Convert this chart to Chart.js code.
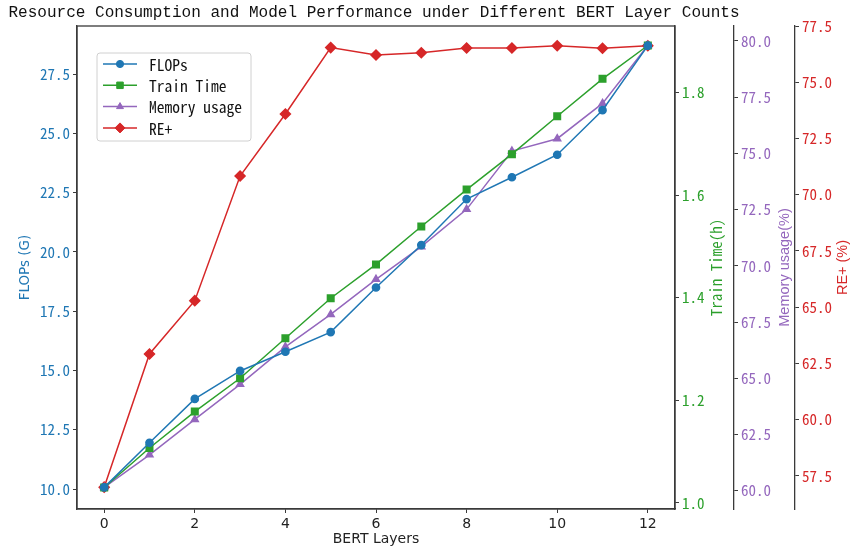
<!DOCTYPE html>
<html>
<head>
<meta charset="utf-8">
<script src="https://cdn.jsdelivr.net/npm/chart.js@4.4.0/dist/chart.umd.min.js"></script>
<style>
    html, body { margin: 0; padding: 0; background: #fff; }
    #wrap { width: 850px; height: 552px; }
</style>
</head>
<body>
<div id="wrap"><canvas id="myChart" width="850" height="552"></canvas></div>
<script>
// data
const layers = [0, 1, 2, 3, 4, 5, 6, 7, 8, 9, 10, 11, 12];
const flops = [10.07, 11.95, 13.8, 14.98, 15.79, 16.62, 18.5, 20.29, 22.23, 23.15, 24.1, 25.98, 28.7];
const trainTime = [1.03, 1.107, 1.178, 1.243, 1.321, 1.399, 1.465, 1.539, 1.611, 1.68, 1.754, 1.827, 1.892];
const memoryUsage = [60.15, 61.6, 63.17, 64.73, 66.4, 67.84, 69.4, 70.85, 72.51, 75.1, 75.65, 77.22, 79.79];
const rePlus = [57.0, 62.92, 65.29, 70.83, 73.59, 76.54, 76.21, 76.31, 76.52, 76.52, 76.62, 76.51, 76.62];

const xTicks = [0, 2, 4, 6, 8, 10, 12];
const flopsTicks = [10.0, 12.5, 15.0, 17.5, 20.0, 22.5, 25.0, 27.5];
const trainTicks = [1.0, 1.2, 1.4, 1.6, 1.8];
const memoryTicks = [60.0, 62.5, 65.0, 67.5, 70.0, 72.5, 75.0, 77.5, 80.0];
const reTicks = [57.5, 60.0, 62.5, 65.0, 67.5, 70.0, 72.5, 75.0, 77.5];

const seriesNames = ["FLOPs", "Train Time", "Memory usage", "RE+"];
const chartTitle = "Resource Consumption and Model Performance under Different BERT Layer Counts";

const BLUE = "#1f77b4";
const GREEN = "#2ca02c";
const PURPLE = "#9467bd";
const RED = "#d62728";
const AXIS = "#3a3a3a";

const monoCJK = "'Noto Sans Mono CJK SC', 'Liberation Mono', monospace";
const sans = "'DejaVu Sans', sans-serif";

const toPoints = (ys) => layers.map((x, i) => ({ x: x, y: ys[i] }));

function yAxis(opts) {
    return {
        type: "linear",
        position: opts.position,
        weight: opts.weight,
        min: opts.min,
        max: opts.max,
        afterFit: (scale) => {
            scale.width = opts.width;
        },
        afterBuildTicks: (scale) => {
            scale.ticks = opts.ticks.map((v) => ({ value: v }));
        },
        ticks: {
            color: opts.color,
            padding: 3,
            font: { family: monoCJK, size: 15 },
            callback: (v) => Number(v).toFixed(1),
        },
        grid: {
            display: true,
            drawOnChartArea: false,
            drawTicks: true,
            tickLength: 4,
            color: AXIS,
            tickColor: AXIS,
        },
        border: { display: true, color: AXIS, width: 1.3 },
    };
}

const framePlugin = {
    id: "frame",
    beforeDatasetsDraw(chart) {
        const { ctx, chartArea } = chart;
        ctx.save();
        ctx.strokeStyle = AXIS;
        ctx.lineWidth = 1.3;
        ctx.strokeRect(chartArea.left, chartArea.top, chartArea.right - chartArea.left, chartArea.bottom - chartArea.top);
        ctx.restore();
    },
};

const textPlugin = {
    id: "texts",
    afterDraw(chart) {
        const { ctx, chartArea, scales } = chart;
        const midY = (chartArea.top + chartArea.bottom) / 2;
        ctx.save();

        // main title, sized to span the same width as in the picture
        ctx.fillStyle = "#111";
        ctx.textAlign = "center";
        ctx.textBaseline = "middle";
        ctx.font = "20px 'Liberation Mono', monospace";
        const w20 = ctx.measureText(chartTitle).width;
        const titleSize = (20 * 732) / w20;
        ctx.font = titleSize.toFixed(2) + "px 'Liberation Mono', monospace";
        ctx.fillText(chartTitle, 374, 13);

        // x axis title
        ctx.font = "14px " + sans;
        ctx.fillStyle = "#222";
        ctx.fillText("BERT Layers", (chartArea.left + chartArea.right) / 2, 539);

        // rotated y axis titles
        const vtitle = (text, x, color, font) => {
            ctx.save();
            ctx.translate(x, midY);
            ctx.rotate(-Math.PI / 2);
            ctx.fillStyle = color;
            ctx.font = font;
            ctx.textAlign = "center";
            ctx.textBaseline = "middle";
            ctx.fillText(text, 0, 0);
            ctx.restore();
        };
        vtitle("FLOPs (G)", scales.y.left + 25, BLUE, "13.5px " + sans);
        vtitle("Train Time(h)", scales.yTrain.left + 41, GREEN, "15px " + monoCJK);
        vtitle("Memory usage(%)", scales.yMem.left + 51, PURPLE, "14.5px 'Liberation Sans', Arial, sans-serif");
        vtitle("RE+ (%)", scales.yRE.left + 48, RED, "14.5px 'Liberation Sans', Arial, sans-serif");

        // legend box
        const lx = 97, ly = 53, lw = 154, lh = 88;
        ctx.beginPath();
        ctx.roundRect(lx, ly, lw, lh, 3);
        ctx.fillStyle = "rgba(255,255,255,0.85)";
        ctx.fill();
        ctx.strokeStyle = "#d0d0d0";
        ctx.lineWidth = 1;
        ctx.stroke();

        chart.data.datasets.forEach((ds, i) => {
            const y = 64 + i * 21.3;
            ctx.strokeStyle = ds.borderColor;
            ctx.lineWidth = ds.borderWidth;
            ctx.beginPath();
            ctx.moveTo(103, y);
            ctx.lineTo(137, y);
            ctx.stroke();
            ctx.fillStyle = ds.backgroundColor;
            ctx.strokeStyle = ds.borderColor;
            ctx.lineWidth = 1;
            Chart.helpers.drawPoint(ctx, { pointStyle: ds.pointStyle, radius: ds.pointRadius, rotation: 0, borderWidth: 1 }, 120, y);
            ctx.fillStyle = "#111";
            ctx.font = "15.5px " + monoCJK;
            ctx.textAlign = "left";
            ctx.textBaseline = "middle";
            ctx.fillText(ds.label, 149, y + 1);
        });

        ctx.restore();
    },
};

const ctx = document.querySelector("#myChart");

new Chart(ctx, {
    type: "line",
    data: {
        datasets: [
            {
                label: seriesNames[0],
                data: toPoints(flops),
                yAxisID: "y",
                borderColor: BLUE,
                backgroundColor: BLUE,
                borderWidth: 1.5,
                pointStyle: "circle",
                pointRadius: 3.6,
            },
            {
                label: seriesNames[1],
                data: toPoints(trainTime),
                yAxisID: "yTrain",
                borderColor: GREEN,
                backgroundColor: GREEN,
                borderWidth: 1.5,
                pointStyle: "rect",
                pointRadius: 4.6,
            },
            {
                label: seriesNames[2],
                data: toPoints(memoryUsage),
                yAxisID: "yMem",
                borderColor: PURPLE,
                backgroundColor: PURPLE,
                borderWidth: 1.5,
                pointStyle: "triangle",
                pointRadius: 4,
            },
            {
                label: seriesNames[3],
                data: toPoints(rePlus),
                yAxisID: "yRE",
                borderColor: RED,
                backgroundColor: RED,
                borderWidth: 1.5,
                pointStyle: "rectRot",
                pointRadius: 5,
            },
        ],
    },
    options: {
        responsive: false,
        animation: false,
        devicePixelRatio: 1,
        layout: { padding: { top: 26, left: 0, right: 0, bottom: 0 } },
        elements: {
            line: { tension: 0 },
            point: { borderWidth: 1 },
        },
        plugins: {
            legend: { display: false },
            title: { display: false },
            tooltip: { enabled: false },
        },
        scales: {
            x: {
                type: "linear",
                position: "bottom",
                min: -0.6,
                max: 12.6,
                afterFit: (scale) => {
                    scale.height = 43;
                },
                afterBuildTicks: (scale) => {
                    scale.ticks = xTicks.map((v) => ({ value: v }));
                },
                ticks: {
                    color: "#222",
                    padding: 3,
                    maxRotation: 0,
                    font: { family: sans, size: 14 },
                    callback: (v) => String(v),
                },
                grid: {
                    display: true,
                    drawOnChartArea: false,
                    drawTicks: true,
                    tickLength: 4,
                    color: AXIS,
                    tickColor: AXIS,
                },
                border: { display: true, color: AXIS, width: 1.3 },
            },
            y: yAxis({ position: "left", weight: 0, min: 9.157, max: 29.53, width: 77, ticks: flopsTicks, color: BLUE }),
            yTrain: yAxis({ position: "right", weight: 0, min: 0.988, max: 1.93, width: 59, ticks: trainTicks, color: GREEN }),
            yMem: yAxis({ position: "right", weight: 1, min: 59.19, max: 80.66, width: 61, ticks: memoryTicks, color: PURPLE }),
            yRE: yAxis({ position: "right", weight: 2, min: 56.03, max: 77.5, width: 55, ticks: reTicks, color: RED }),
        },
    },
    plugins: [framePlugin, textPlugin],
});
</script>
</body>
</html>
